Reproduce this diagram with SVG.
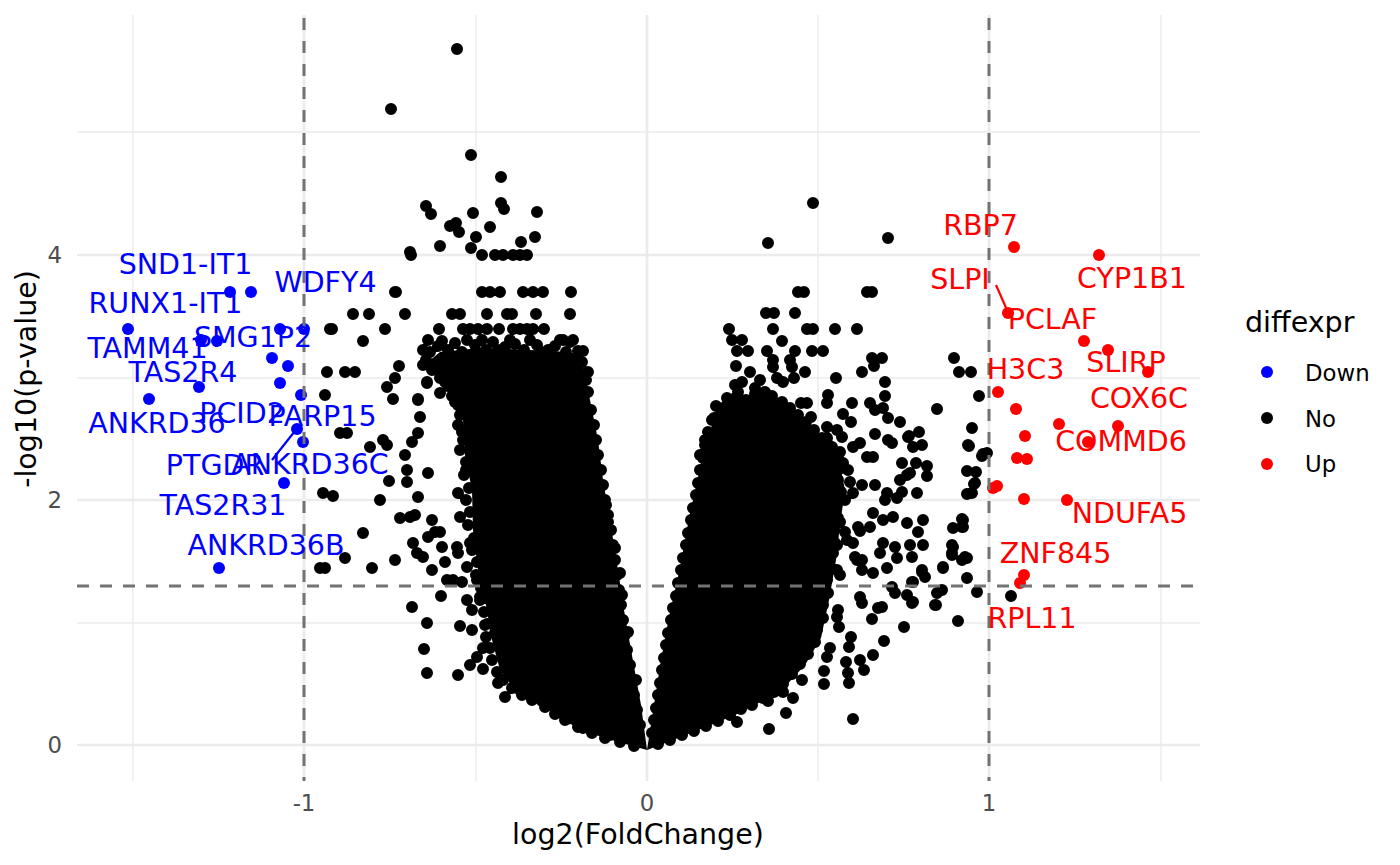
<svg xmlns="http://www.w3.org/2000/svg" width="1400" height="865" viewBox="0 0 1400 865">
<style>
text{font-family:"DejaVu Sans","Liberation Sans",sans-serif}
.lab{font-size:28.5px;text-anchor:middle}
.dn{fill:#0000FF}
.up{fill:#FF0000}
.tick{font-size:22.8px;fill:#4D4D4D}
.gmaj{stroke:#EBEBEB;stroke-width:2.7;fill:none}
.gmin{stroke:#EBEBEB;stroke-width:1.4;fill:none}
.ref{stroke:#737373;stroke-width:3;stroke-dasharray:12 11;fill:none}
.dots{fill:none;stroke:#000;stroke-width:12;stroke-linecap:round}
.core{fill:#000;stroke:none}
</style>
<rect width="1400" height="865" fill="#FFFFFF"/>
<g id="grid">
<path class="gmin" d="M77 623H1200M77 378H1200M77 132H1200M133 15V781M476 15V781M818 15V781M1161 15V781"/>
<path class="gmaj" d="M77 745H1200M77 500H1200M77 255H1200M304 15V781M647 15V781M989 15V781"/>
</g>
<g id="points-no">
<path class="core" d="M647 750L615 741L583 731L560 718L538 703L515 690L500 670L492 640L486 605L478 570L473 530L472 490L465 455L463 420L452 395L435 375L428 362L440 352L480 348L530 350L570 352L583 365L590 400L598 440L603 480L610 520L618 570L624 610L631 650L641 705Z"/>
<path class="core" d="M647 750L654 705L661 660L670 612L680 568L689 518L697 482L704 450L712 425L722 405L745 395L775 398L795 410L815 430L838 455L845 490L840 525L836 560L829 600L821 638L805 665L782 690L742 712L706 727L673 740Z"/>
<path class="dots" d="M430 352h0M438 346h0M448 350h0M455 343h0M462 352h0M475 345h0M486 350h0M493 342h0M505 347h0M515 344h0M524 350h0M537 345h0M545 352h0M555 346h0M566 352h0M575 358h0M582 362h0M588 372h0
M426 360h0M432 370h0M440 378h0M448 386h0M452 396h0M458 405h0M460 415h0M458 425h0M463 440h0M460 450h0M466 462h0M464 475h0M469 488h0M466 500h0M470 512h0M468 525h0M474 538h0M472 550h0M477 562h0M476 575h0M481 588h0M480 600h0M484 612h0M487 624h0M486 637h0M490 648h0M492 660h0M497 672h0M503 680h0M512 688h0M522 695h0M532 700h0M545 707h0M555 714h0M565 720h0M578 727h0M592 733h0M605 738h0M620 742h0M634 746h0
M586 380h0M588 392h0M591 410h0M594 425h0M596 440h0M598 455h0M601 470h0M603 485h0M605 500h0M608 515h0M611 530h0M613 545h0M615 560h0M617 575h0M619 590h0M621 605h0M623 620h0M625 635h0M627 650h0M630 665h0M632 680h0M634 695h0M637 710h0M640 725h0
M714 418h0M720 408h0M728 402h0M737 396h0M746 400h0M755 394h0M764 399h0M772 396h0M781 403h0M790 408h0M798 415h0M806 422h0M814 430h0M822 438h0M830 446h0M838 456h0
M842 468h0M838 480h0M841 492h0M836 505h0M838 518h0M834 530h0M835 543h0M831 555h0M831 568h0M827 580h0M828 593h0M823 605h0M823 618h0M817 630h0M815 642h0M808 654h0M800 664h0M792 674h0M783 684h0M774 692h0M763 698h0M752 705h0M741 709h0M730 715h0M718 721h0M706 726h0M694 731h0M682 735h0M670 740h0M658 744h0
M708 432h0M705 445h0M703 458h0M700 470h0M698 483h0M696 495h0M693 508h0M691 520h0M688 533h0M686 545h0M683 558h0M681 570h0M678 583h0M676 596h0M673 608h0M671 620h0M668 633h0M666 645h0M664 658h0M662 670h0M660 683h0M658 695h0M656 708h0M654 720h0M652 733h0
M457 49h0M391 109h0M471 155h0M501 177h0M426 206h0M431 214h0M501 203h0M504 209h0M473 213h0M537 212h0M450 226h0M456 223h0M459 232h0M490 227h0M476 237h0M440 246h0M471 248h0M521 242h0M535 237h0M410 252h0M411 255h0M482 255h0M495 255h0M503 255h0M513 255h0M520 255h0M527 255h0M396 292h0M482 292h0M490 292h0M500 292h0M523 292h0M533 292h0M543 292h0M571 292h0M353 314h0M369 314h0M405 314h0M452 314h0M460 314h0M487 314h0M507 314h0M512 314h0M536 314h0M570 314h0M332 329h0M385 329h0M363 341h0M439 329h0M463 329h0M470 329h0M478 329h0M487 329h0M499 329h0M513 329h0M520 329h0M527 329h0M533 329h0M544 329h0M345 372h0M355 372h0M399 366h0M395 378h0M387 387h0M393 399h0M578 351h0M578 382h0M560 340h0M570 342h0M583 351h0M428 340h0M442 341h0M427 382h0M447 382h0M418 399h0M330 329h0M395 292h0M327 372h0M325 395h0M340 433h0M347 433h0M383 440h0M370 447h0M389 481h0M323 493h0M333 496h0M380 500h0M363 533h0M345 558h0M320 568h0M325 568h0M372 568h0M395 560h0
M387 445h0M405 455h0M407 470h0M407 482h0M412 442h0M418 433h0M420 417h0M418 400h0M427 383h0M428 473h0M418 497h0M400 518h0M410 517h0M415 515h0M413 543h0M417 553h0M423 557h0M428 537h0M435 532h0M432 520h0M440 532h0M442 547h0M445 562h0M432 570h0M447 580h0M453 580h0M462 582h0M457 547h0M458 553h0M460 517h0M458 493h0M470 543h0M467 567h0M441 596h0M412 607h0M427 623h0M467 600h0M472 610h0M460 626h0M472 630h0M424 649h0M427 673h0M458 675h0M470 665h0M483 669h0M477 657h0M483 648h0M498 683h0M505 697h0M520 690h0M527 692h0M542 701h0M567 719h0M583 728h0M593 730h0M610 735h0M477 580h0M483 580h0M480 597h0M490 600h0M485 625h0M495 633h0M587 417h0M592 450h0M577 405h0M597 493h0M608 522h0M620 573h0
M428 340h0M442 341h0M467 340h0M482 340h0M498 350h0M510 340h0M530 340h0M548 350h0M563 340h0M573 340h0M423 350h0M423 365h0M433 365h0M457 365h0M445 382h0M440 393h0M565 367h0M565 378h0M577 403h0M455 402h0M462 432h0M466 470h0M600 470h0M606 505h0M615 548h0M622 595h0M628 632h0M636 680h0
M813 203h0M768 243h0M888 238h0M798 292h0M804 292h0M867 292h0M872 292h0M766 313h0M774 313h0M795 313h0M729 329h0M773 329h0M807 329h0M813 329h0M835 329h0M857 329h0M732 340h0M742 340h0M737 351h0M748 351h0M767 351h0M782 341h0M795 351h0M812 351h0M823 351h0M736 366h0M773 360h0M773 367h0M790 360h0M792 367h0M872 358h0M882 358h0M874 366h0M954 358h0M959 372h0M971 372h0M742 382h0M750 372h0M777 378h0M783 382h0M794 378h0M805 372h0M836 378h0M862 372h0M885 382h0M885 396h0M979 396h0M828 395h0M827 403h0M852 403h0M870 403h0M937 409h0M801 403h0M807 403h0M811 417h0M843 414h0M851 422h0M875 410h0M883 408h0M888 418h0M900 422h0M972 428h0M969 446h0M982 456h0M827 427h0M837 430h0M842 437h0M875 434h0M888 440h0M892 443h0M909 436h0M919 432h0M913 447h0M922 445h0M827 438h0M832 447h0M840 452h0M853 447h0M860 443h0M867 457h0M873 457h0M902 463h0M916 463h0M927 466h0M927 476h0M967 471h0M976 472h0M813 440h0M843 463h0M908 437h0M968 445h0M983 454h0M987 453h0
M712 420h0M705 440h0M716 406h0M727 398h0M738 392h0M755 388h0M765 392h0M782 402h0M760 380h0M735 385h0M720 415h0M700 455h0M712 442h0M715 452h0M703 470h0
M974 484h0M967 494h0M972 493h0M900 480h0M907 475h0M910 473h0M902 492h0M897 498h0M917 493h0M885 500h0M875 485h0M887 493h0M862 485h0M853 493h0M873 513h0M883 520h0M893 517h0M907 523h0M923 520h0M918 532h0M870 527h0M860 531h0M953 528h0M963 520h0M962 527h0M910 545h0M923 545h0M895 547h0M883 543h0M880 553h0M912 557h0M897 558h0M953 547h0M952 555h0M967 558h0M962 560h0M943 568h0M887 568h0M922 570h0M925 577h0M873 573h0M967 578h0M912 582h0M857 560h0M862 570h0M892 587h0M895 593h0M937 593h0M942 590h0M977 592h0M907 595h0M912 603h0M935 605h0M860 597h0M862 603h0M882 607h0M878 608h0M872 619h0M958 621h0M904 627h0M839 627h0M851 637h0M849 647h0M884 641h0M873 655h0M860 660h0M864 670h0M846 662h0M848 673h0M849 683h0M827 657h0M830 648h0M824 671h0M824 684h0M802 680h0M793 698h0M786 713h0M768 701h0M783 692h0M769 729h0M737 722h0M853 719h0M838 610h0M837 617h0M858 527h0M832 507h0M840 522h0M845 532h0M837 545h0M833 553h0M847 540h0M853 543h0M855 557h0M862 560h0M837 570h0M840 575h0M1011 596h0M975 483h0M962 519h0M963 527h0M952 545h0M952 553h0M943 567h0M965 557h0M913 582h0M913 602h0M922 572h0M936 605h0M848 470h0M850 482h0M845 500h0"/>
</g>
<g id="points-down" class="dn">
<circle cx="230" cy="292" r="6"/><circle cx="251" cy="292" r="6"/><circle cx="128" cy="329" r="6"/><circle cx="280" cy="329" r="6"/><circle cx="304" cy="329" r="6"/><circle cx="201" cy="340" r="6"/><circle cx="217" cy="341" r="6"/><circle cx="272" cy="358" r="6"/><circle cx="288" cy="366" r="6"/><circle cx="280" cy="383" r="6"/><circle cx="199" cy="387" r="6"/><circle cx="149" cy="399" r="6"/><circle cx="301" cy="395" r="6"/><circle cx="297" cy="429" r="6"/><circle cx="303" cy="442" r="6"/><circle cx="284" cy="483" r="6"/><circle cx="219" cy="568" r="6"/>
</g>
<g id="points-up" class="up">
<circle cx="1014" cy="247" r="6"/><circle cx="1099" cy="255" r="6"/><circle cx="1008" cy="313" r="6"/><circle cx="1084" cy="341" r="6"/><circle cx="1108" cy="350" r="6"/><circle cx="1148" cy="372" r="6"/><circle cx="998" cy="392" r="6"/><circle cx="1016" cy="409" r="6"/><circle cx="1059" cy="424" r="6"/><circle cx="1118" cy="426" r="6"/><circle cx="1025" cy="436" r="6"/><circle cx="1088" cy="442" r="6"/><circle cx="1017" cy="458" r="6"/><circle cx="1027" cy="459" r="6"/><circle cx="993" cy="488" r="6"/><circle cx="997" cy="486" r="6"/><circle cx="1024" cy="499" r="6"/><circle cx="1067" cy="500" r="6"/><circle cx="1024" cy="575" r="6"/><circle cx="1020" cy="583" r="6"/>
</g>
<g id="thresholds">
<path class="ref" d="M77 586H1200"/>
<path class="ref" d="M304 18V781M989 18V781"/>
</g>
<g id="connectors">
<line x1="272" y1="460" x2="295" y2="431" stroke="#0000FF" stroke-width="2.2"/>
<line x1="996" y1="285" x2="1007" y2="310" stroke="#FF0000" stroke-width="2.2"/>
</g>
<g id="labels-down" class="dn">
<text class="lab" x="185.5" y="274">SND1-IT1</text>
<text class="lab" x="325.5" y="292">WDFY4</text>
<text class="lab" x="165.5" y="313">RUNX1-IT1</text>
<text class="lab" x="253" y="347">SMG1P2</text>
<text class="lab" x="147.5" y="358">TAMM41</text>
<text class="lab" x="183" y="382">TAS2R4</text>
<text class="lab" x="242" y="423">PCID2</text>
<text class="lab" x="322.5" y="426">PARP15</text>
<text class="lab" x="157" y="433">ANKRD36</text>
<text class="lab" x="215" y="475">PTGDR</text>
<text class="lab" x="310" y="474">ANKRD36C</text>
<text class="lab" x="223" y="515">TAS2R31</text>
<text class="lab" x="266" y="555">ANKRD36B</text>
</g>
<g id="labels-up" class="up">
<text class="lab" x="980.5" y="235">RBP7</text>
<text class="lab" x="960" y="289">SLPI</text>
<text class="lab" x="1132" y="288">CYP1B1</text>
<text class="lab" x="1052.5" y="329">PCLAF</text>
<text class="lab" x="1126" y="372">SLIRP</text>
<text class="lab" x="1025.5" y="379">H3C3</text>
<text class="lab" x="1139" y="408">COX6C</text>
<text class="lab" x="1121" y="451">COMMD6</text>
<text class="lab" x="1129.5" y="523">NDUFA5</text>
<text class="lab" x="1055.5" y="563">ZNF845</text>
<text class="lab" x="1032" y="628">RPL11</text>
</g>
<g id="axes">
<text class="tick" x="62" y="753" text-anchor="end">0</text>
<text class="tick" x="62" y="508" text-anchor="end">2</text>
<text class="tick" x="62" y="263" text-anchor="end">4</text>
<text class="tick" x="304" y="811" text-anchor="middle">-1</text>
<text class="tick" x="647" y="811" text-anchor="middle">0</text>
<text class="tick" x="989" y="811" text-anchor="middle">1</text>
<text x="638" y="844" font-size="28.5" text-anchor="middle">log2(FoldChange)</text>
<text transform="translate(36 379) rotate(-90)" font-size="28.5" text-anchor="middle">-log10(p-value)</text>
</g>
<g id="legend">
<text x="1245" y="332" font-size="28.5">diffexpr</text>
<circle cx="1267" cy="372" r="6" fill="#0000FF"/>
<circle cx="1267" cy="418" r="6" fill="#000000"/>
<circle cx="1267" cy="464" r="6" fill="#FF0000"/>
<text x="1305" y="381" font-size="22.8">Down</text>
<text x="1305" y="427" font-size="22.8">No</text>
<text x="1305" y="472" font-size="22.8">Up</text>
</g>
</svg>
